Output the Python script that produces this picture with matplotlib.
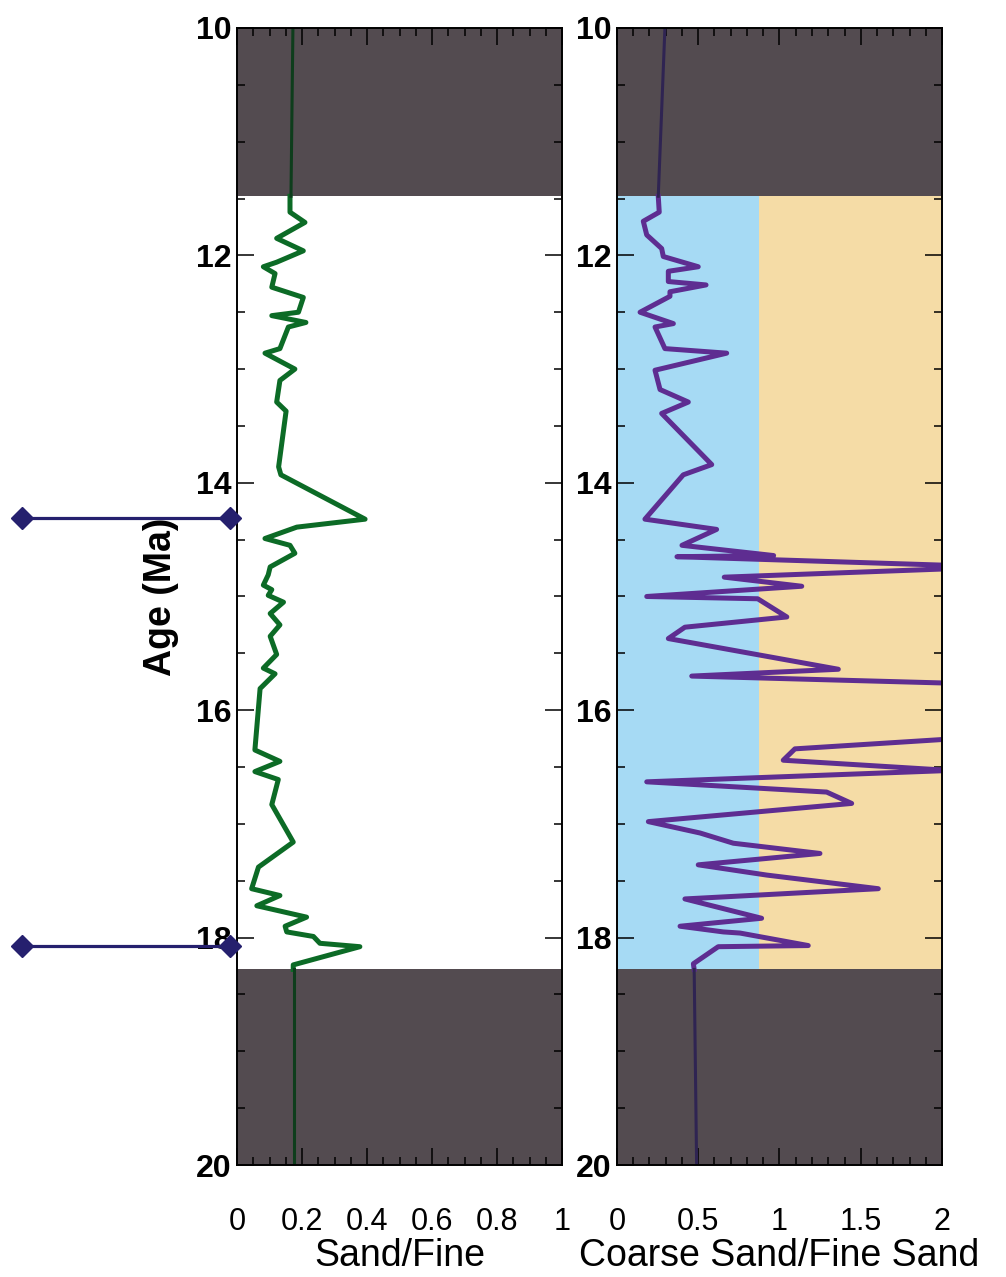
import matplotlib
matplotlib.use('Agg')
import matplotlib.pyplot as plt
from matplotlib.ticker import MultipleLocator, FuncFormatter

plt.rcParams['font.family'] = ['Liberation Sans', 'DejaVu Sans']

# Sand/Fine ratio (left panel), age in Ma
sand_age = [11.48, 11.62, 11.71, 11.85, 11.96, 12.06, 12.10, 12.16, 12.28, 12.37,
            12.50, 12.53, 12.59, 12.63, 12.82, 12.86, 13.00, 13.10, 13.29, 13.37,
            13.86, 13.93, 14.32, 14.39, 14.49, 14.55, 14.62, 14.74, 14.81, 14.90,
            14.94, 14.99, 15.05, 15.15, 15.25, 15.35, 15.51, 15.63, 15.68, 15.81,
            16.35, 16.45, 16.54, 16.61, 16.83, 17.16, 17.38, 17.57, 17.63, 17.72,
            17.82, 17.90, 17.95, 17.99, 18.05, 18.08, 18.24, 18.28]
sand_ratio = [0.163, 0.163, 0.209, 0.122, 0.204, 0.122, 0.081, 0.117, 0.107, 0.204,
              0.189, 0.107, 0.212, 0.158, 0.132, 0.086, 0.178, 0.132, 0.122, 0.151,
              0.128, 0.135, 0.394, 0.184, 0.086, 0.163, 0.178, 0.102, 0.096, 0.081,
              0.107, 0.096, 0.143, 0.102, 0.132, 0.102, 0.122, 0.081, 0.117, 0.071,
              0.055, 0.132, 0.055, 0.127, 0.107, 0.173, 0.066, 0.045, 0.132, 0.061,
              0.214, 0.148, 0.153, 0.235, 0.255, 0.378, 0.173, 0.173]

# Coarse sand / fine sand ratio (right panel)
coarse_age = [11.48, 11.62, 11.70, 11.82, 11.94, 12.01, 12.10, 12.14, 12.23, 12.26,
              12.32, 12.36, 12.50, 12.60, 12.63, 12.82, 12.86, 13.01, 13.18, 13.29,
              13.39, 13.84, 13.93, 14.32, 14.41, 14.55, 14.64, 14.65, 14.74, 14.83,
              14.91, 15.00, 15.02, 15.18, 15.27, 15.37, 15.64, 15.70, 15.78, 16.24,
              16.34, 16.44, 16.53, 16.63, 16.72, 16.82, 16.98, 17.08, 17.17, 17.26,
              17.36, 17.45, 17.57, 17.66, 17.83, 17.90, 17.95, 17.96, 18.07, 18.08,
              18.23, 18.28]
coarse_ratio = [0.254, 0.260, 0.162, 0.183, 0.275, 0.285, 0.500, 0.316, 0.316, 0.548,
                0.326, 0.326, 0.142, 0.347, 0.234, 0.295, 0.675, 0.234, 0.265, 0.439,
                0.275, 0.583, 0.408, 0.172, 0.613, 0.400, 0.964, 0.369, 2.35, 0.660,
                1.137, 0.183, 0.866, 1.045, 0.418, 0.316, 1.362, 0.460, 2.5, 2.2,
                1.095, 1.023, 2.05, 0.183, 1.29, 1.444, 0.193, 0.511, 0.716, 1.249,
                0.500, 0.921, 1.608, 0.418, 0.890, 0.388, 0.654, 0.757, 1.177, 0.623,
                0.470, 0.475]

# values inside the shaded (no data) intervals
sand_top_age, sand_top = [10, 11.48], [0.172, 0.166]
sand_bot_age, sand_bot = [18.28, 20], [0.175, 0.175]
coarse_top_age, coarse_top = [10, 11.48], [0.295, 0.254]
coarse_bot_age, coarse_bot = [18.28, 20], [0.475, 0.49]

gap_top = (10, 11.48)
gap_bot = (18.28, 20)
fine_limit = 0.875
marker_ages = [14.31, 18.07]

dark = '#534b50'
fmt = FuncFormatter(lambda v, p: '%g' % v)

fig = plt.figure(figsize=(10.06, 12.77), dpi=100)
ax1 = fig.add_axes([0.2356, 0.0877, 0.3231, 0.8904])
ax2 = fig.add_axes([0.6133, 0.0877, 0.3231, 0.8904])

ax2.axvspan(0, fine_limit, color='#a6daf4', zorder=0, lw=0)
ax2.axvspan(fine_limit, 2, color='#f5dca6', zorder=0, lw=0)

for ax in (ax1, ax2):
    ax.axhspan(*gap_top, color=dark, zorder=1, lw=0)
    ax.axhspan(*gap_bot, color=dark, zorder=1, lw=0)

ax1.plot(sand_ratio, sand_age, color='#0c6b26', lw=3.6, zorder=3)
ax1.plot(sand_top, sand_top_age, color='#0e3d1c', lw=2.2, zorder=3)
ax1.plot(sand_bot, sand_bot_age, color='#0e3d1c', lw=2.2, zorder=3)

ax2.plot(coarse_ratio, coarse_age, color='#5e2d91', lw=3.6, zorder=3)
ax2.plot(coarse_top, coarse_top_age, color='#2f2452', lw=2.2, zorder=3)
ax2.plot(coarse_bot, coarse_bot_age, color='#2f2452', lw=2.2, zorder=3)

for a in marker_ages:
    ax1.plot([-0.6615, -0.0215], [a, a], color='#25206e', lw=2.3, marker='D',
             ms=11, clip_on=False, zorder=6)

ax1.set_xlim(0, 1)
ax2.set_xlim(0, 2)
ax1.xaxis.set_major_locator(MultipleLocator(0.2))
ax1.xaxis.set_minor_locator(MultipleLocator(0.05))
ax2.xaxis.set_major_locator(MultipleLocator(0.5))
ax2.xaxis.set_minor_locator(MultipleLocator(0.1))

for ax in (ax1, ax2):
    ax.set_ylim(20, 10)
    ax.yaxis.set_major_locator(MultipleLocator(2))
    ax.yaxis.set_minor_locator(MultipleLocator(0.5))
    ax.xaxis.set_major_formatter(fmt)
    ax.tick_params(which='both', direction='in', top=True, right=True, width=1.1)
    ax.tick_params(which='major', length=12)
    ax.tick_params(which='minor', length=6)
    ax.tick_params(axis='x', pad=30)
    ax.tick_params(axis='y', pad=4)
    for lab in ax.get_yticklabels():
        lab.set_fontsize(23)
        lab.set_fontweight('bold')
    for lab in ax.get_xticklabels():
        lab.set_fontsize(22)
    for s in ax.spines.values():
        s.set_linewidth(1.4)
        s.set_zorder(5)

ax1.set_ylabel('Age (Ma)', fontsize=27, fontweight='bold', labelpad=12)
ax1.set_xlabel('Sand/Fine', fontsize=27, labelpad=1)
ax2.set_xlabel('Coarse Sand/Fine Sand', fontsize=27, labelpad=1)

fig.savefig('out.png', dpi=100)
